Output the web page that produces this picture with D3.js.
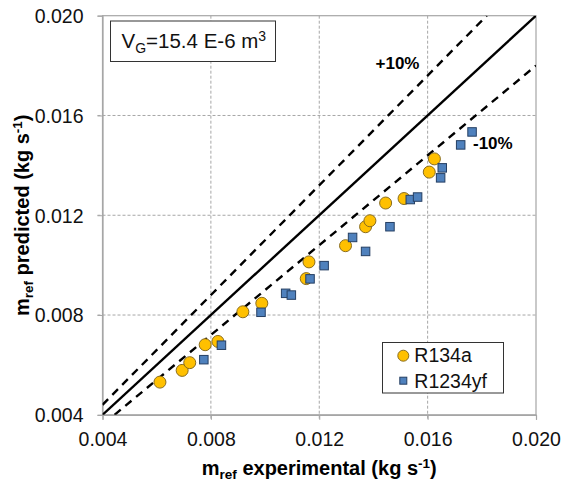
<!DOCTYPE html>
<html>
<head>
<meta charset="utf-8">
<script src="https://cdn.jsdelivr.net/npm/d3@7"></script>
<style>
  html, body { margin: 0; padding: 0; background: #fff; }
  svg { display: block; font-family: "Liberation Sans", Arial, sans-serif; }
</style>
</head>
<body>
<svg id="chart" width="563" height="487"></svg>
<script>
// ---- data (kg/s) ----
const r134aExp  = [0.00612, 0.00694, 0.00722, 0.00779, 0.00826, 0.00918, 0.00988, 0.01152, 0.01162, 0.01297, 0.01371, 0.01387, 0.01445, 0.01513, 0.01606, 0.01625];
const r134aPred = [0.00531, 0.00578, 0.00609, 0.00681, 0.00694, 0.00813, 0.00847, 0.00946, 0.01013, 0.01078, 0.01154, 0.01178, 0.01249, 0.01267, 0.01373, 0.01426];
const r1234yfExp  = [0.00774, 0.00839, 0.00985, 0.01076, 0.01097, 0.01166, 0.01218, 0.01323, 0.01371, 0.01461, 0.01536, 0.01563, 0.01648, 0.01654, 0.01722, 0.01764];
const r1234yfPred = [0.00621, 0.00679, 0.00811, 0.00887, 0.00880, 0.00945, 0.00998, 0.01111, 0.01055, 0.01154, 0.01263, 0.01273, 0.01350, 0.01390, 0.01482, 0.01534];
const tickValues = [0.004, 0.008, 0.012, 0.016, 0.020];
const tickLabels = ["0.004", "0.008", "0.012", "0.016", "0.020"];
const idealLine  = [[0.004, 0.004], [0.020, 0.020]];
const plus10Line = [[0.004, 0.0044], [0.0181818, 0.020]];
const minus10Line = [[0.0044444, 0.004], [0.020, 0.018]];
const seriesNames = ["R134a", "R1234yf"];

const svg = d3.select("#chart");
const x = d3.scaleLinear().domain([0.004, 0.020]).range([102.5, 536]);
const y = d3.scaleLinear().domain([0.004, 0.020]).range([414.8, 15.7]);
const gridColor = "#a6a6a6";

// gridlines (dashed)
svg.append("g").selectAll("line").data(tickValues.slice(1, -1)).join("line")
  .attr("x1", d => x(d)).attr("x2", d => x(d))
  .attr("y1", y(0.020)).attr("y2", y(0.004) + 5)
  .attr("stroke", gridColor).attr("stroke-width", 1).attr("stroke-dasharray", "3,2");
svg.append("g").selectAll("line").data(tickValues.slice(1, -1)).join("line")
  .attr("y1", d => y(d)).attr("y2", d => y(d))
  .attr("x1", x(0.004) - 5).attr("x2", x(0.020))
  .attr("stroke", gridColor).attr("stroke-width", 1).attr("stroke-dasharray", "3,2");

// frame
svg.append("rect")
  .attr("x", x(0.004)).attr("y", y(0.020))
  .attr("width", x(0.020) - x(0.004)).attr("height", y(0.004) - y(0.020))
  .attr("fill", "none").attr("stroke", gridColor).attr("stroke-width", 1.2);

// axes with outward ticks
const xAxis = d3.axisBottom(x).tickValues(tickValues).tickFormat((d, i) => tickLabels[i]).tickSize(5).tickPadding(12);
const yAxis = d3.axisLeft(y).tickValues(tickValues).tickFormat((d, i) => tickLabels[i]).tickSize(5).tickPadding(14);
const gx = svg.append("g").attr("transform", `translate(0,${y(0.004)})`).call(xAxis);
const gy = svg.append("g").attr("transform", `translate(${x(0.004)},0)`).call(yAxis);
[gx, gy].forEach(g => {
  g.select(".domain").attr("stroke", gridColor).attr("stroke-width", 1.2);
  g.selectAll(".tick line").attr("stroke", gridColor);
  g.selectAll(".tick text").attr("font-size", 19.5).attr("fill", "#111")
    .attr("font-family", "Liberation Sans, Arial, sans-serif");
});
gy.selectAll(".tick text").attr("dy", "0.35em");

// clip
svg.append("clipPath").attr("id", "plotClip").append("rect")
  .attr("x", x(0.004)).attr("y", y(0.020))
  .attr("width", x(0.020) - x(0.004)).attr("height", y(0.004) - y(0.020));

const lineGen = d3.line().x(d => x(d[0])).y(d => y(d[1]));
const lines = svg.append("g").attr("clip-path", "url(#plotClip)");
lines.append("path").attr("d", lineGen(idealLine)).attr("stroke", "#000").attr("stroke-width", 2.4).attr("fill", "none");
lines.append("path").attr("d", lineGen(plus10Line)).attr("stroke", "#000").attr("stroke-width", 2.4).attr("fill", "none").attr("stroke-dasharray", "8,6");
lines.append("path").attr("d", lineGen(minus10Line)).attr("stroke", "#000").attr("stroke-width", 2.4).attr("fill", "none").attr("stroke-dasharray", "8,6");

// markers
const circFill = "#ffc000", circStroke = "#8a6d1e";
const sqFill = "#4f81bd", sqStroke = "#253f63";
const sqSize = 8.5;
svg.append("g").selectAll("circle").data(d3.range(r134aExp.length)).join("circle")
  .attr("cx", i => x(r134aExp[i])).attr("cy", i => y(r134aPred[i])).attr("r", 6)
  .attr("fill", circFill).attr("stroke", circStroke).attr("stroke-width", 1);
svg.append("g").selectAll("rect").data(d3.range(r1234yfExp.length)).join("rect")
  .attr("x", i => x(r1234yfExp[i]) - sqSize / 2).attr("y", i => y(r1234yfPred[i]) - sqSize / 2)
  .attr("width", sqSize).attr("height", sqSize)
  .attr("fill", sqFill).attr("stroke", sqStroke).attr("stroke-width", 1);

// +10% / -10% labels
svg.append("text").attr("x", 375.5).attr("y", 69).attr("font-size", 17).attr("font-weight", "bold").text("+10%");
svg.append("text").attr("x", 473).attr("y", 149).attr("font-size", 17).attr("font-weight", "bold").text("-10%");

// V_G box
svg.append("rect").attr("x", 110.5).attr("y", 21).attr("width", 165).attr("height", 40.5)
  .attr("fill", "#fff").attr("stroke", "#333").attr("stroke-width", 1);
const vt = svg.append("text").attr("x", 121.5).attr("y", 48.3).attr("font-size", 20.5).attr("fill", "#111");
vt.append("tspan").text("V");
vt.append("tspan").attr("font-size", 14).attr("dy", 5).text("G");
vt.append("tspan").attr("dy", -5).text("=15.4 E-6 m");
vt.append("tspan").attr("font-size", 14).attr("dy", -7).text("3");

// legend
const lg = svg.append("g");
lg.append("rect").attr("x", 382.5).attr("y", 342.5).attr("width", 121).attr("height", 50.5)
  .attr("fill", "#fff").attr("stroke", "#333").attr("stroke-width", 1);
lg.append("circle").attr("cx", 403.3).attr("cy", 355.7).attr("r", 5.5)
  .attr("fill", circFill).attr("stroke", circStroke).attr("stroke-width", 1);
lg.append("rect").attr("x", 403.3 - 3.5).attr("y", 380.7 - 3.5).attr("width", 7).attr("height", 7)
  .attr("fill", sqFill).attr("stroke", sqStroke).attr("stroke-width", 1);
lg.append("text").attr("x", 414.3).attr("y", 362.3).attr("font-size", 19.5).attr("fill", "#111").text(seriesNames[0]);
lg.append("text").attr("x", 414.3).attr("y", 387.5).attr("font-size", 19.5).attr("fill", "#111").text(seriesNames[1]);

// axis titles
const xt = svg.append("text").attr("x", (x(0.004) + x(0.020)) / 2).attr("y", 474.5)
  .attr("text-anchor", "middle").attr("font-size", 20).attr("font-weight", "bold");
xt.append("tspan").text("m");
xt.append("tspan").attr("font-size", 13.5).attr("dy", 4).text("ref");
xt.append("tspan").attr("dy", -4).text(" experimental (kg s");
xt.append("tspan").attr("font-size", 13.5).attr("dy", -7).text("-1");
xt.append("tspan").attr("dy", 7).text(")");

const yt = svg.append("text").attr("transform", `translate(29,${(y(0.004) + y(0.020)) / 2}) rotate(-90)`)
  .attr("text-anchor", "middle").attr("font-size", 20).attr("font-weight", "bold");
yt.append("tspan").text("m");
yt.append("tspan").attr("font-size", 13.5).attr("dy", 4).text("ref");
yt.append("tspan").attr("dy", -4).text(" predicted (kg s");
yt.append("tspan").attr("font-size", 13.5).attr("dy", -7).text("-1");
yt.append("tspan").attr("dy", 7).text(")");
</script>
</body>
</html>
